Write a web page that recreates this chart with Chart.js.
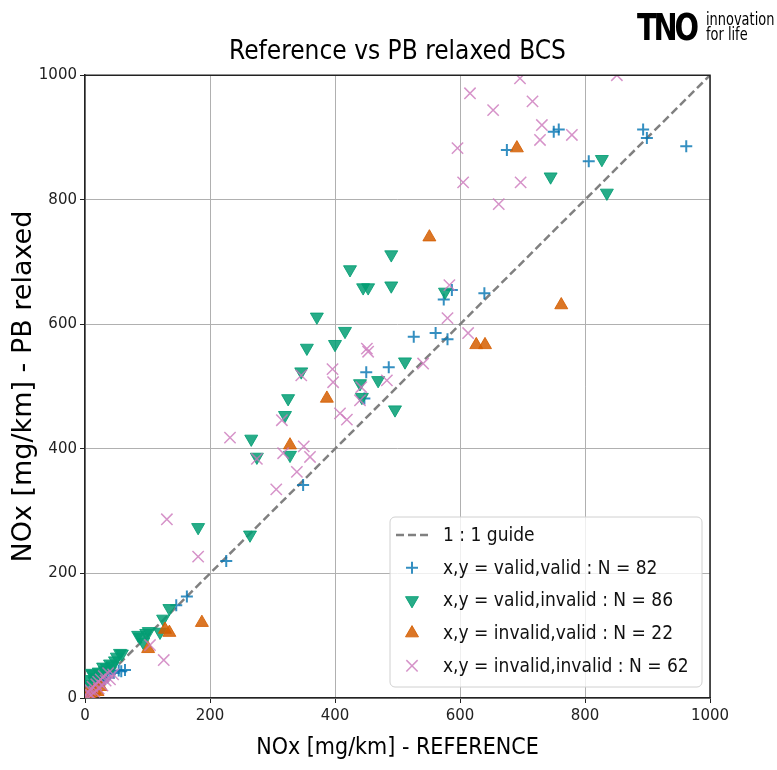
<!DOCTYPE html>
<html>
<head>
<meta charset="utf-8">
<script src="https://cdn.jsdelivr.net/npm/chart.js@4.4.0/dist/chart.umd.min.js"></script>
<style>
  html, body { margin: 0; padding: 0; background: #fff; }
  #wrap { position: relative; width: 777px; height: 770px; }
  #logo { position: absolute; left: 637px; top: 6px; height: 40px; white-space: nowrap; }
  #logo .tno { position: absolute; left: 0; top: 0; font: 900 37px 'DejaVu Sans', sans-serif; letter-spacing: -4px; transform: scaleX(0.78); transform-origin: 0 0; color: #000; }
  #logo .tag { position: absolute; left: 69px; top: 5px; font: 18px/15px 'DejaVu Sans Condensed', 'DejaVu Sans', sans-serif; transform: scaleX(0.8); transform-origin: 0 0; color: #000; }
</style>
</head>
<body>
<div id="wrap">
  <canvas id="noxChart" width="777" height="770"></canvas>
  <div id="logo"><span class="tno">TNO</span><span class="tag">innovation<br>for life</span></div>
</div>
<script>
// 1:1 guide
const guideX = [0, 1000];
const guideY = [0, 1000];

// x,y = valid,valid
const vvX = [962, 893, 899, 750, 758, 675, 806, 639, 587, 574, 580, 561, 526, 486, 450, 447, 349, 226, 163, 146, 64, 58, 54, 46, 40, 36, 31, 28, 24, 21, 18, 15, 12, 9, 6, 4, 2];
const vvY = [886, 913, 899, 909, 913, 880, 862, 650, 655, 640, 576, 586, 580, 531, 523, 481, 342, 220, 163, 149, 45, 43, 44, 40, 38, 33, 30, 27, 22, 20, 18, 14, 12, 9, 7, 4, 2];

// x,y = valid,invalid
const viX = [490, 424, 445, 453, 490, 371, 416, 355, 400, 346, 440, 469, 443, 496, 325, 320, 266, 275, 328, 512, 576, 827, 745, 835, 181, 264, 135, 125, 120, 102, 85, 93, 98, 88, 59, 56, 51, 48, 40, 35, 29, 22, 13, 11, 18, 8, 5, 15, 25, 32, 44];
const viY = [712, 688, 659, 659, 662, 612, 589, 562, 568, 524, 505, 510, 483, 463, 481, 454, 416, 387, 390, 540, 652, 865, 837, 811, 274, 262, 144, 127, 106, 107, 101, 90, 104, 98, 71, 72, 66, 60, 55, 48, 50, 42, 38, 40, 33, 22, 30, 28, 36, 44, 52];

// x,y = invalid,valid
const ivX = [691, 551, 762, 626, 640, 387, 328, 187, 128, 135, 101, 11, 5, 15, 20, 8, 25, 3];
const ivY = [883, 740, 631, 567, 567, 481, 406, 121, 110, 105, 79, 8, 3, 12, 10, 5, 18, 6];

// x,y = invalid,invalid
const iiX = [696, 851, 616, 653, 716, 731, 728, 779, 596, 605, 697, 662, 583, 580, 613, 541, 483, 451, 453, 396, 397, 442, 440, 408, 419, 346, 315, 350, 360, 317, 339, 306, 275, 232, 131, 181, 126, 104, 37, 30, 21, 8, 12, 15, 25, 28, 18, 5, 40, 10, 22, 33, 45, 3];
const iiY = [995, 1000, 971, 944, 958, 920, 896, 904, 883, 828, 828, 793, 663, 610, 586, 537, 510, 561, 556, 528, 507, 499, 478, 457, 447, 518, 446, 404, 387, 393, 363, 335, 384, 418, 287, 227, 61, 85, 40, 35, 26, 13, 18, 10, 30, 20, 22, 8, 30, 5, 15, 28, 38, 2];

const axisTicks = [0, 200, 400, 600, 800, 1000];

const labels = [
    '1 : 1 guide',
    'x,y = valid,valid : N = 82',
    'x,y = valid,invalid : N = 86',
    'x,y = invalid,valid : N = 22',
    'x,y = invalid,invalid : N = 62'
];

const FONT = "'DejaVu Sans Condensed', 'DejaVu Sans', sans-serif";
const TICKFONT = "'DejaVu Sans', sans-serif";
const blue = 'rgba(1, 115, 178, 0.8)';
const green = 'rgba(2, 158, 115, 0.85)';
const orange = 'rgba(213, 94, 0, 0.85)';
const pink = 'rgba(204, 120, 188, 0.8)';

function pairs(xs, ys) {
    return xs.map((x, i) => ({ x: x, y: ys[i] }));
}

// top/right spines like matplotlib
const frame = {
    id: 'frame',
    afterDatasetsDraw(chart) {
        const { ctx, chartArea: a } = chart;
        ctx.save();
        ctx.strokeStyle = '#222';
        ctx.lineWidth = 1.5;
        ctx.beginPath();
        ctx.moveTo(a.left, a.top);
        ctx.lineTo(a.right, a.top);
        ctx.lineTo(a.right, a.bottom);
        ctx.stroke();
        ctx.restore();
    }
};

// legend box inside the plot, lower right
const legendBox = {
    id: 'legendBox',
    afterDraw(chart) {
        const { ctx, chartArea: a } = chart;
        const left = a.right - 320, right = a.right - 8;
        const bottom = a.bottom - 11, top = bottom - 170;
        ctx.save();
        ctx.beginPath();
        ctx.roundRect(left, top, right - left, bottom - top, 5);
        ctx.fillStyle = 'rgba(255,255,255,0.8)';
        ctx.fill();
        ctx.strokeStyle = '#d0d0d0';
        ctx.lineWidth = 1;
        ctx.stroke();

        ctx.font = '19px ' + FONT;
        ctx.textBaseline = 'middle';
        ctx.fillStyle = '#111';
        chart.data.datasets.forEach((ds, i) => {
            const y = top + 18 + i * 32.7;
            const mx = left + 22;
            if (ds.type === 'line') {
                ctx.save();
                ctx.strokeStyle = ds.borderColor;
                ctx.lineWidth = ds.borderWidth;
                ctx.setLineDash(ds.borderDash);
                ctx.beginPath();
                ctx.moveTo(left + 6, y);
                ctx.lineTo(left + 40, y);
                ctx.stroke();
                ctx.restore();
            } else {
                ctx.save();
                ctx.strokeStyle = ds.borderColor;
                ctx.fillStyle = ds.backgroundColor;
                ctx.lineWidth = ds.borderWidth;
                Chart.helpers.drawPoint(ctx, {
                    pointStyle: ds.pointStyle,
                    rotation: ds.pointRotation || 0,
                    radius: ds.pointRadius,
                    borderWidth: ds.borderWidth
                }, mx, y);
                ctx.restore();
            }
            ctx.fillText(ds.label, left + 53, y + 1);
        });
        ctx.restore();
    }
};

const ctx = document.getElementById('noxChart').getContext('2d');
new Chart(ctx, {
    type: 'scatter',
    data: {
        datasets: [
            {
                type: 'line',
                label: labels[0],
                data: pairs(guideX, guideY),
                borderColor: '#808080',
                borderWidth: 2.5,
                borderDash: [8, 4],
                pointRadius: 0,
                fill: false,
                order: 5
            },
            {
                label: labels[1],
                data: pairs(vvX, vvY),
                pointStyle: 'cross',
                pointRadius: 6,
                borderWidth: 2,
                borderColor: blue,
                backgroundColor: blue,
                order: 4
            },
            {
                label: labels[2],
                data: pairs(viX, viY),
                pointStyle: 'triangle',
                pointRotation: 180,
                pointRadius: 7.5,
                borderWidth: 1,
                borderColor: green,
                backgroundColor: green,
                order: 3
            },
            {
                label: labels[3],
                data: pairs(ivX, ivY),
                pointStyle: 'triangle',
                pointRadius: 7.5,
                borderWidth: 1,
                borderColor: orange,
                backgroundColor: orange,
                order: 2
            },
            {
                label: labels[4],
                data: pairs(iiX, iiY),
                pointStyle: 'crossRot',
                pointRadius: 8,
                borderWidth: 1.5,
                borderColor: pink,
                backgroundColor: pink,
                order: 1
            }
        ]
    },
    options: {
        responsive: false,
        animation: false,
        devicePixelRatio: 1,
        layout: { padding: { left: 0, right: 67, top: 0, bottom: 0 } },
        plugins: {
            legend: { display: false },
            tooltip: { enabled: false },
            title: {
                display: true,
                text: 'Reference vs PB relaxed BCS',
                fullSize: false,
                color: '#000',
                font: { family: FONT, size: 26, weight: 'normal' },
                padding: { top: 37, bottom: 7 }
            }
        },
        scales: {
            x: {
                type: 'linear',
                min: 0,
                max: 1000,
                afterBuildTicks(scale) { scale.ticks = axisTicks.map(v => ({ value: v })); },
                afterFit(scale) { scale.height = 72; },
                ticks: { color: '#222', padding: 4, font: { family: TICKFONT, size: 15 }, callback: v => String(v) },
                grid: { color: '#b0b0b0', lineWidth: 1, tickColor: '#222', tickLength: 5 },
                border: { color: '#222', width: 1.5 },
                title: {
                    display: true,
                    text: 'NOx [mg/km] - REFERENCE',
                    color: '#000',
                    font: { family: FONT, size: 23 },
                    padding: { top: 4, bottom: 8 }
                }
            },
            y: {
                type: 'linear',
                min: 0,
                max: 1000,
                afterBuildTicks(scale) { scale.ticks = axisTicks.map(v => ({ value: v })); },
                afterFit(scale) { scale.width = 85; },
                ticks: { color: '#222', padding: 3, font: { family: TICKFONT, size: 15 }, callback: v => String(v) },
                grid: { color: '#b0b0b0', lineWidth: 1, tickColor: '#222', tickLength: 5 },
                border: { color: '#222', width: 1.5 },
                title: {
                    display: true,
                    text: 'NOx [mg/km] - PB relaxed',
                    color: '#000',
                    font: { family: TICKFONT, size: 27 },
                    padding: { top: 8, bottom: 0 }
                }
            }
        }
    },
    plugins: [frame, legendBox]
});
</script>
</body>
</html>
